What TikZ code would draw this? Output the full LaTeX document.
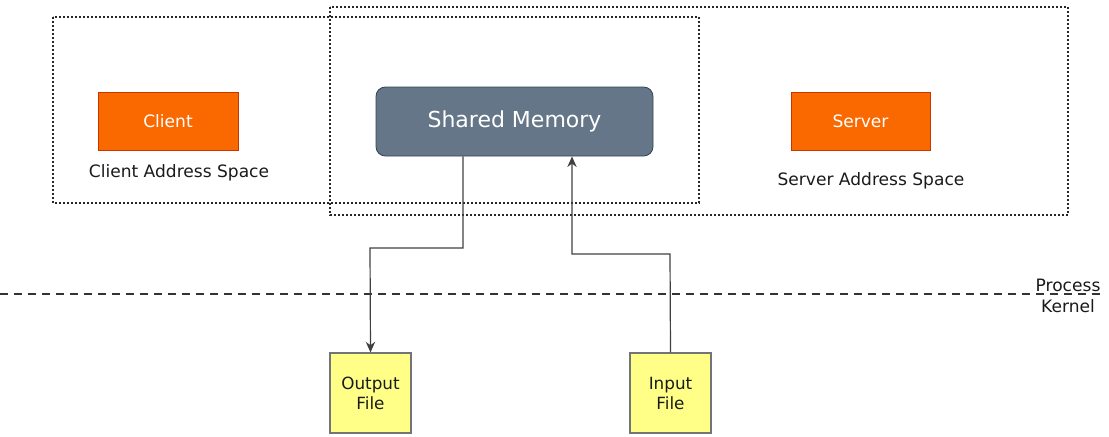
\documentclass[tikz,border=0pt]{standalone}
\usepackage{fontspec}
\setmainfont{DejaVu Sans}
\usetikzlibrary{arrows.meta}
\definecolor{orangefill}{HTML}{FA6800}
\definecolor{orangeline}{HTML}{C73500}
\definecolor{slatefill}{HTML}{647687}
\definecolor{slateline}{HTML}{314354}
\definecolor{yellowfill}{HTML}{FFFF88}
\definecolor{yellowline}{HTML}{36393D}
\definecolor{txt}{HTML}{1A1A1A}
\begin{document}
\begin{tikzpicture}[x=0.75pt,y=-0.75pt,
  space/.style={draw=black!85,line width=1.1pt,dash pattern=on 1.3pt off 1.7pt},
  orangebox/.style={draw=orangeline,fill=orangefill,line width=0.6pt,text=white,font=\fontsize{12.8}{14}\selectfont},
  filebox/.style={draw=yellowline!70,fill=yellowfill,line width=0.8pt,text=txt,align=center,font=\fontsize{12.6}{15}\selectfont},
  label/.style={text=txt,font=\fontsize{12.8}{14}\selectfont},
  conn/.style={draw=black!75,line width=0.9pt},
  tip/.style={-{Stealth[length=8pt,width=7pt]}}]
\useasboundingbox (0,0) rectangle (1109,436);
% address spaces
\draw[space] (53,17) rectangle (699,203);
\draw[space] (330,7) rectangle (1068,215);
% nodes
\node[orangebox,minimum width=105pt,minimum height=44pt] (client) at (168,121.5) {Client};
\node[label] (clientlbl) at (179,173) {Client Address Space};
\node[draw=slateline,fill=slatefill,rounded corners=7pt,line width=0.6pt,text=white,minimum width=207.75pt,minimum height=51.75pt,font=\fontsize{16.5}{18}\selectfont] (shm) at (514.5,121.5) {Shared Memory};
\node[orangebox,minimum width=104.25pt,minimum height=44pt] (server) at (860.5,121.5) {Server};
\node[label] (serverlbl) at (871,181) {Server Address Space};
\node[filebox,minimum width=60.75pt,minimum height=60pt] (out) at (370.5,393) {Output\\File};
\node[filebox,minimum width=60.75pt,minimum height=60pt] (in) at (670.5,393) {Input\\File};
% process / kernel boundary
\coordinate (bl) at (0,294);
\coordinate (br) at (1101,294);
\draw[black!80,line width=1.4pt,dash pattern=on 6pt off 4.5pt] (bl) -- (br);
\node[label,anchor=south,inner sep=1pt] (proc) at (1068,293) {Process};
\node[label,anchor=north,inner sep=1pt] (kern) at (1068,298) {Kernel};
% connectors
\coordinate (a1) at (463,248);
\coordinate (a2) at (370,248);
\draw[conn,tip] (shm.south -| a1) -- (a1) -- (a2) -- (out.north);
\coordinate (b1) at (670,254);
\coordinate (b2) at (572,254);
\draw[conn,tip] (in.north) -- (b1) -- (b2) -- (shm.south -| b2);
\end{tikzpicture}
\end{document}
